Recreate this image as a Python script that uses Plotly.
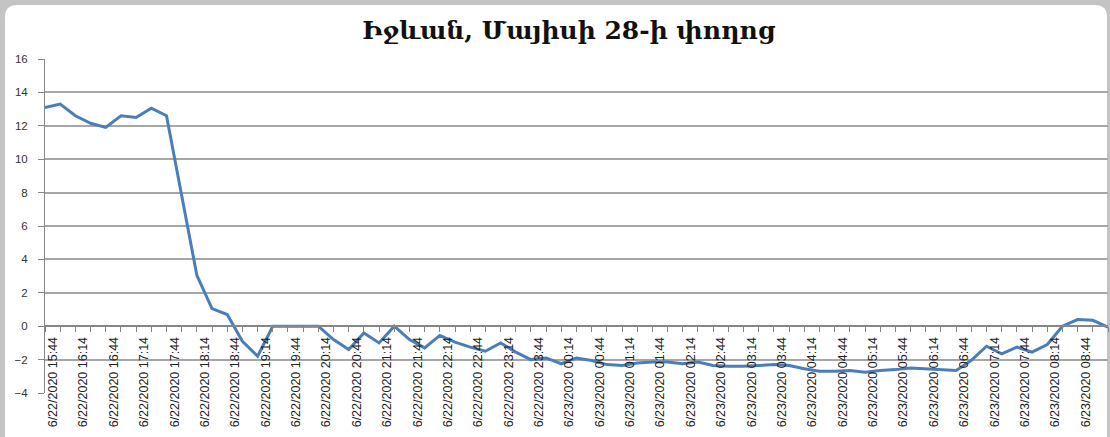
import pandas as pd
import plotly.graph_objects as go

title = "Իջևան, Մայիսի 28-ի փողոց"

# 15-minute readings, 6/22/2020 15:44 .. 6/23/2020 09:14
times = [t.strftime("%-m/%d/%Y %H:%M")
         for t in pd.date_range("2020-06-22 15:44", "2020-06-23 09:14", freq="15min")]

values = [13.1, 13.3, 12.6, 12.15, 11.9, 12.6, 12.5, 13.05, 12.6, 7.8,
          3.05, 1.05, 0.7, -0.9, -1.8, 0, 0, 0, 0, -0.8,
          -1.4, -0.4, -1.0, 0, -0.8, -1.3, -0.55, -0.95, -1.25, -1.5,
          -1.0, -1.55, -2.0, -1.9, -2.25, -1.9, -2.05, -2.3, -2.35, -2.2,
          -2.15, -2.15, -2.25, -2.15, -2.35, -2.4, -2.4, -2.35, -2.3, -2.35,
          -2.55, -2.7, -2.7, -2.65, -2.75, -2.65, -2.6, -2.5, -2.55, -2.6,
          -2.65, -2.05, -1.2, -1.65, -1.25, -1.55, -1.1, 0, 0.4, 0.35,
          -0.05]

y_ticks = [-4, -2, 0, 2, 4, 6, 8, 10, 12, 14, 16]

W, H = 1110, 437
ML, MR, MT, MB = 45, 2, 59, 44


def px(x):
    return (x - ML) / (W - ML - MR)


def py(y):
    return (H - MB - y) / (H - MT - MB)


# white card with rounded top corners over a grey frame
r = 12
x0, x1, y0, y1 = 5, 1107, 5, 445
card = (f"M {px(x0)},{py(y1)} L {px(x0)},{py(y0 + r)} "
        f"Q {px(x0)},{py(y0)} {px(x0 + r)},{py(y0)} "
        f"L {px(x1 - r)},{py(y0)} Q {px(x1)},{py(y0)} {px(x1)},{py(y0 + r)} "
        f"L {px(x1)},{py(y1)} Z")

fig = go.Figure()
fig.add_trace(go.Scatter(x=times, y=values, mode="lines",
                         line=dict(color="#4a7ebb", width=3), showlegend=False))

fig.update_layout(
    width=W, height=H,
    margin=dict(l=ML, r=MR, t=MT, b=MB),
    paper_bgcolor="#c4c4c4", plot_bgcolor="rgba(0,0,0,0)",
    title=dict(text=f"<b>{title}</b>", x=569 / W, xanchor="center",
               y=1 - 30 / H, yanchor="middle",
               font=dict(family="DejaVu Serif", size=25, color="#111")),
    shapes=[dict(type="path", path=card, xref="paper", yref="paper",
                 fillcolor="white", line=dict(width=0), layer="below")],
    xaxis=dict(type="category", anchor="free", position=0.2, automargin=False,
               tickmode="array", tickvals=times,
               ticktext=[t if i % 2 == 0 else "" for i, t in enumerate(times)],
               tickangle=-90, ticklabelshift=8,
               ticks="outside", ticklen=5, tickcolor="#868686",
               showline=True, linecolor="#868686", linewidth=1.5,
               showgrid=False, zeroline=False,
               tickfont=dict(family="Liberation Sans", size=12.5, color="#222")),
    yaxis=dict(range=[-4, 16], tickvals=y_ticks, ticks="outside", ticklen=6,
               automargin=False, ticklabelstandoff=8,
               tickcolor="#868686", showline=True, linecolor="#868686",
               gridcolor="#a6a6a6", gridwidth=1.5, zeroline=False,
               tickfont=dict(family="Liberation Sans", size=11.5, color="#333")),
)

fig.write_html("out.html", config={"displayModeBar": False},
               post_script="document.body.style.margin='0';")
